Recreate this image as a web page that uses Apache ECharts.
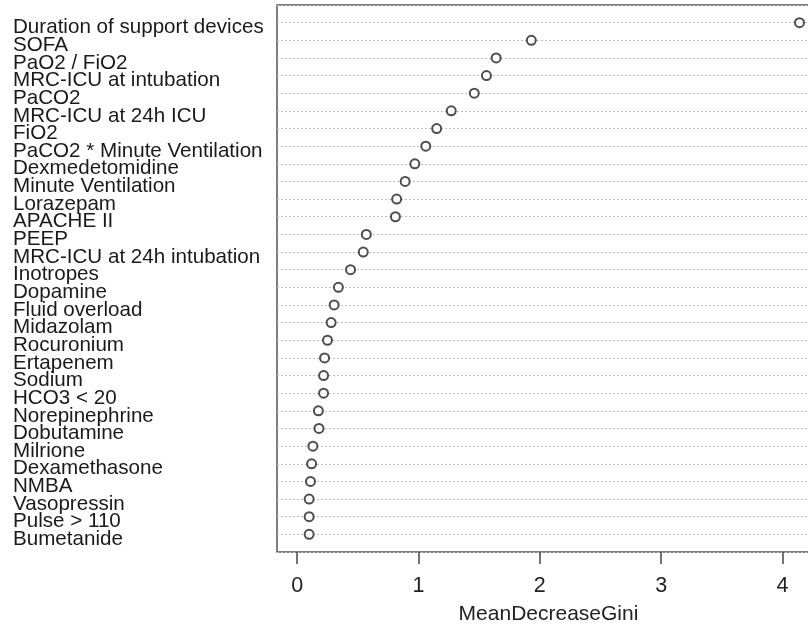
<!DOCTYPE html>
<html>
<head>
<meta charset="utf-8">
<script src="https://cdn.jsdelivr.net/npm/echarts@6/dist/echarts.min.js"></script>
<style>
html,body{margin:0;padding:0;background:#fff;}
#chart{width:808px;height:629px;}
</style>
</head>
<body>
<div id="chart"></div>
<script>
// Variable names, top to bottom
var variables = [
  "Duration of support devices", "SOFA", "PaO2 / FiO2", "MRC-ICU at intubation",
  "PaCO2", "MRC-ICU at 24h ICU", "FiO2", "PaCO2 * Minute Ventilation",
  "Dexmedetomidine", "Minute Ventilation", "Lorazepam", "APACHE II", "PEEP",
  "MRC-ICU at 24h intubation", "Inotropes", "Dopamine", "Fluid overload",
  "Midazolam", "Rocuronium", "Ertapenem", "Sodium", "HCO3 < 20",
  "Norepinephrine", "Dobutamine", "Milrione", "Dexamethasone", "NMBA",
  "Vasopressin", "Pulse > 110", "Bumetanide"
];
// MeanDecreaseGini values, same order
var giniValues = [
  4.14, 1.93, 1.64, 1.56, 1.46, 1.27, 1.15, 1.06,
  0.97, 0.89, 0.82, 0.81, 0.57, 0.545, 0.44, 0.34,
  0.305, 0.28, 0.25, 0.226, 0.218, 0.218, 0.175, 0.18,
  0.13, 0.119, 0.11, 0.099, 0.099, 0.099
];
var xTicks = [0, 1, 2, 3, 4];
var xTitle = "MeanDecreaseGini";

var cats = [""].concat(variables).concat([""]);
var points = variables.map(function (v, i) { return [giniValues[i], v]; });

var chart = echarts.init(document.getElementById('chart'), null, {renderer: 'canvas'});
var font = '"Liberation Sans", Arial, sans-serif';
chart.setOption({
  animation: false,
  backgroundColor: '#ffffff',
  grid: {
    left: 277, top: 5, width: 543, height: 547,
    outerBoundsMode: 'none', containLabel: false,
    show: true, borderColor: '#555', borderWidth: 1.5, backgroundColor: 'transparent'
  },
  xAxis: {
    type: 'value',
    min: -0.166, max: 4.309,
    axisLine: {show: false},
    axisTick: {show: true, length: 12, customValues: xTicks, lineStyle: {color: '#444', width: 1.5}},
    axisLabel: {customValues: xTicks, margin: 23, fontSize: 21.5, fontFamily: font, color: '#222'},
    splitLine: {show: false},
    name: xTitle,
    nameLocation: 'middle',
    nameGap: 52,
    nameTextStyle: {fontSize: 21, fontFamily: font, color: '#222'}
  },
  yAxis: {
    type: 'category',
    data: cats,
    inverse: true,
    boundaryGap: false,
    axisLine: {show: false},
    axisTick: {show: false},
    axisLabel: {
      interval: 0, align: 'left', margin: 264,
      formatter: function (v) { return v ? '{a|' + v + '}' : ''; },
      rich: {
        a: {fontSize: 20.6, fontFamily: font, color: '#1a1a1a', padding: [10, 0, 0, 0]}
      }
    },
    splitLine: {show: true, lineStyle: {color: '#bdbdbd', width: 1, type: [2, 2]}}
  },
  series: [{
    type: 'scatter',
    data: points,
    symbol: 'circle',
    symbolSize: 9,
    itemStyle: {color: '#ffffff', borderColor: '#222', borderWidth: 2},
    silent: true
  }]
});
</script>
</body>
</html>
